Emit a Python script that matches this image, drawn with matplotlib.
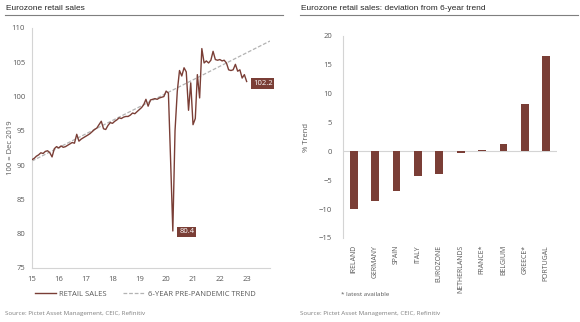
import numpy as np
import pandas as pd
import matplotlib
matplotlib.use("Agg")
from matplotlib import pyplot as plt
from matplotlib import dates as mdates
from matplotlib.lines import Line2D

# Eurozone retail sales, monthly, 100 = Dec 2019 (Jan 2015 - Jan 2023)
sales = [
    90.8, 91.0, 91.3, 91.5, 91.8, 91.7, 92.0, 92.1, 91.8, 91.2, 92.4, 92.7,
    92.5, 92.8, 92.6, 92.7, 92.9, 93.1, 93.3, 93.2, 94.5, 93.5, 93.8, 94.0,
    94.2, 94.4, 94.6, 94.9, 95.2, 95.4, 95.9, 96.4, 95.3, 95.2, 95.8, 96.2,
    96.1, 96.4, 96.6, 96.9, 96.8, 97.0, 97.1, 97.1, 97.3, 97.6, 97.5, 97.8,
    98.1, 98.4, 98.8, 99.6, 98.6, 99.5, 99.6, 99.7, 99.6, 99.8, 99.9, 100.0,
    100.8, 100.5, 91.0, 80.4, 95.0, 100.8, 103.8, 103.0, 104.2, 103.6, 98.0, 102.0,
    95.9, 96.8, 103.2, 99.8, 107.0, 104.9, 105.2, 104.9, 105.3, 106.6, 105.4, 105.3,
    105.4, 105.2, 105.3, 104.9, 103.9, 103.8, 103.9, 104.7, 103.7, 103.9, 102.7, 103.2,
    102.2,
]
sales_start = "2015-01-01"

# 6-year pre-pandemic trend, end points
trend_dates = ["2015-01-01", "2023-11-15"]
trend_values = [90.6, 108.1]

# deviation from 6-year trend, %
countries = ["IRELAND", "GERMANY", "SPAIN", "ITALY", "EUROZONE",
             "NETHERLANDS", "FRANCE*", "BELGIUM", "GREECE*", "PORTUGAL"]
deviation = [-9.9, -8.6, -6.8, -4.3, -3.9, -0.3, 0.2, 1.3, 8.3, 16.5]

BROWN = "#7a3e36"
GREY_TXT = "#595959"
SPINE = "#d4d4d4"
TITLE_FONT = ["Liberation Sans", "DejaVu Sans"]
BODY_FONT = ["Open Sans", "DejaVu Sans"]

plt.rcParams["font.family"] = BODY_FONT

fig = plt.figure(figsize=(5.8, 3.22), dpi=100)
W, H = 580, 322


def px(x, y):
    return x / W, 1 - y / H


def style_axes(ax):
    for side in ("top", "right"):
        ax.spines[side].set_visible(False)
    for side in ("left", "bottom"):
        ax.spines[side].set_color(SPINE)
        ax.spines[side].set_linewidth(0.8)
    ax.tick_params(length=0, labelsize=5.5, labelcolor=GREY_TXT)


# ---- left: retail sales vs trend
ax1 = fig.add_axes([32 / W, 1 - 268 / H, 238 / W, 240 / H])
style_axes(ax1)
dates = pd.date_range(sales_start, periods=len(sales), freq="MS")
ax1.plot(pd.to_datetime(trend_dates), trend_values, color="#b3b3b3", lw=0.9,
         ls=(0, (3, 1.5)), label="6-YEAR PRE-PANDEMIC TREND", zorder=2)
ax1.plot(dates, sales, color=BROWN, lw=1.0, label="RETAIL SALES", zorder=3)

ax1.set_ylim(75, 110)
ax1.set_yticks(np.arange(75, 111, 5))
ax1.set_xlim(pd.Timestamp("2015-01-01"), pd.Timestamp("2023-11-15"))
ax1.xaxis.set_major_locator(mdates.YearLocator())
ax1.xaxis.set_major_formatter(mdates.DateFormatter("%y"))
ax1.tick_params(axis="y", pad=5)
ax1.tick_params(axis="x", pad=6)
fig.text(*px(11, 148), "100 = Dec 2019", fontsize=5.5, color=GREY_TXT,
         rotation=90, ha="center", va="center")

box = dict(boxstyle="square,pad=0.25", fc=BROWN, ec="none")
i_low = int(np.argmin(sales))
ax1.annotate(f"{sales[i_low]:.1f}", (dates[i_low], sales[i_low]),
             xytext=(14, -1), textcoords="offset pixels", ha="center", va="center",
             fontsize=5.5, color="white", bbox=box, annotation_clip=False)
ax1.annotate(f"{sales[-1]:.1f}", (dates[-1], sales[-1]),
             xytext=(16, -2), textcoords="offset pixels", ha="center", va="center",
             fontsize=5.5, color="white", bbox=box, annotation_clip=False)

handles, labels = ax1.get_legend_handles_labels()
ax1.legend(handles[::-1], labels[::-1], loc="center", bbox_to_anchor=(0.475, -0.108),
           ncol=2, frameon=False, fontsize=5.5, labelcolor=GREY_TXT,
           handlelength=2.8, handletextpad=0.4, columnspacing=2.2)

# ---- right: deviation bars
ax2 = fig.add_axes([343 / W, 1 - 238 / H, 214 / W, 202 / H])
style_axes(ax2)
ax2.spines["bottom"].set_visible(False)
pos = np.arange(len(countries))
ax2.bar(pos, deviation, width=0.36, color=BROWN, zorder=3)
ax2.axhline(0, color=SPINE, lw=0.8, zorder=2)
ax2.set_xlim(-0.5, len(countries) - 0.5)
ax2.set_ylim(-15, 20)
ax2.set_yticks(np.arange(-15, 21, 5))
ax2.set_xticks(pos)
ax2.set_xticklabels(countries, rotation=90, fontsize=5, va="top")
ax2.tick_params(axis="y", pad=8)
ax2.tick_params(axis="x", pad=5)
ax2.set_ylabel("% Trend", fontsize=5.5, color=GREY_TXT, labelpad=6)

# ---- titles, rules, notes
for x0, x1, title in [(5, 283, "Eurozone retail sales"),
                      (300, 578, "Eurozone retail sales: deviation from 6-year trend")]:
    fig.text(*px(x0 + 1, 8), title, fontsize=6, family=TITLE_FONT,
             color="#262626", va="center", ha="left")
    fig.add_artist(Line2D([x0 / W, x1 / W], [1 - 15 / H] * 2,
                          color="#7f7f7f", lw=0.8))

fig.text(*px(341, 294), "* latest available", fontsize=4.5, color=GREY_TXT,
         va="center", ha="left")
for x0 in (5, 300):
    fig.text(*px(x0, 313), "Source: Pictet Asset Management, CEIC, Refinitiv",
             fontsize=4.5, color="#7f7f7f", va="center", ha="left")

fig.savefig("out.png", dpi=100, facecolor="white")
